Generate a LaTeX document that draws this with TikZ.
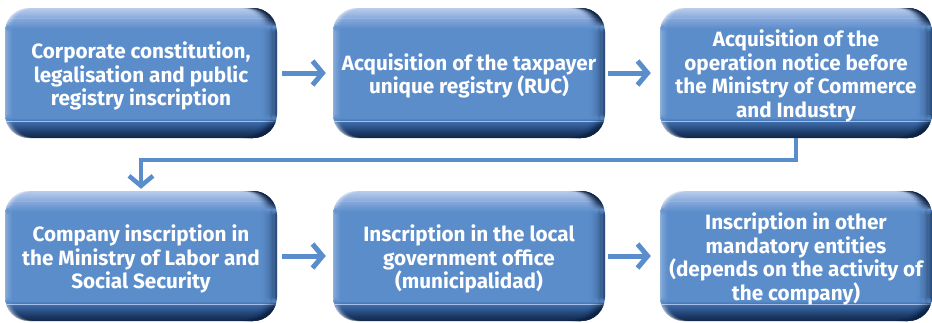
\documentclass[tikz,border=0pt]{standalone}
\usepackage{fontspec}
\setmainfont{Fira Sans}
\usetikzlibrary{arrows.meta}
\definecolor{arrowblue}{HTML}{5A8DCB}
\definecolor{navy}{HTML}{0E2344}
\definecolor{hlline}{HTML}{A5C0E8}
\definecolor{bA}{HTML}{0F2545}
\definecolor{bB}{HTML}{1E3C6A}
\definecolor{bC}{HTML}{3C6BA9}
\definecolor{bD}{HTML}{5B8DCB}
\definecolor{bE}{HTML}{86A8DB}
\definecolor{bF}{HTML}{B9CCEC}
\pgfdeclareverticalshading{boxshade}{100bp}{color(0bp)=(bA); color(25bp)=(bA); color(27.3bp)=(bB); color(31.2bp)=(bC); color(32.8bp)=(bD); color(67bp)=(bD); color(71bp)=(bE); color(75bp)=(bF); color(100bp)=(bF)}
\tikzset{
  flowbox/.style={rounded corners=24pt, minimum width=272pt, minimum height=130pt,
    inner sep=0pt, shade, shading=boxshade,
    path picture={
      \draw[hlline, line width=0.7pt] ([yshift=17pt]path picture bounding box.south west) -- ([yshift=17pt]path picture bounding box.south east);
      \draw[hlline, line width=0.5pt, opacity=0.5] ([yshift=-10pt]path picture bounding box.north west) -- ([yshift=-10pt]path picture bounding box.north east);
      \foreach \i in {0,...,13}{
        \pgfmathsetmacro\op{0.6*(1-\i/14)^2}
        \fill[navy, opacity=\op] ([xshift={-(\i+1)*1.2pt}]path picture bounding box.north east) rectangle ([xshift={-\i*1.2pt}]path picture bounding box.south east);
      }
      \foreach \i in {0,...,7}{
        \pgfmathsetmacro\op{0.3*(1-\i/8)^2}
        \fill[white, opacity=\op] ([xshift={\i*1.2pt}]path picture bounding box.north west) rectangle ([xshift={(\i+1)*1.2pt}]path picture bounding box.south west);
      }
    }},
  flowtext/.style={text=white, align=center, inner sep=0pt,
    font=\bfseries\fontsize{20.7}{23.5}\selectfont},
  conn/.style={arrowblue, line width=5pt, -{Straight Barb[length=10pt,width=24pt]}},
}
\begin{document}
\begin{tikzpicture}[x=1pt,y=-1pt]
\useasboundingbox (0,0) rectangle (932,322);
\node[flowbox] (b1) at (141,73) {};
\node[flowbox] (b2) at (469,73) {};
\node[flowbox] (b3) at (796,73) {};
\node[flowbox] (b4) at (141,256) {};
\node[flowbox] (b5) at (469,256) {};
\node[flowbox] (b6) at (796,256) {};
\node[flowtext] (t1) at ([yshift=-3pt]b1.center) {Corporate constitution,\\legalisation and public\\registry inscription};
\node[flowtext] (t2) at ([yshift=-3pt]b2.center) {Acquisition of the taxpayer\\unique registry (RUC)};
\node[flowtext] (t3) at ([yshift=-3pt]b3.center) {Acquisition of the\\operation notice before\\the Ministry of Commerce\\and Industry};
\node[flowtext] (t4) at ([yshift=-3pt]b4.center) {Company inscription in\\the Ministry of Labor and\\Social Security};
\node[flowtext] (t5) at ([yshift=-3pt]b5.center) {Inscription in the local\\government office\\(municipalidad)};
\node[flowtext] (t6) at ([yshift=-3pt]b6.center) {Inscription in other\\mandatory entities\\(depends on the activity of\\the company)};
\draw[conn, shorten <=5pt, shorten >=7pt] (b1) -- (b2);
\draw[conn, shorten <=3pt, shorten >=9pt] (b2) -- (b3);
\draw[conn, shorten <=5pt, shorten >=7pt] (b4) -- (b5);
\draw[conn, shorten <=3pt, shorten >=9pt] (b5) -- (b6);
\draw[conn, line width=4.5pt, shorten >=2pt] (b3.south) -- ++(0,22) -| (b4.north);
\end{tikzpicture}
\end{document}
